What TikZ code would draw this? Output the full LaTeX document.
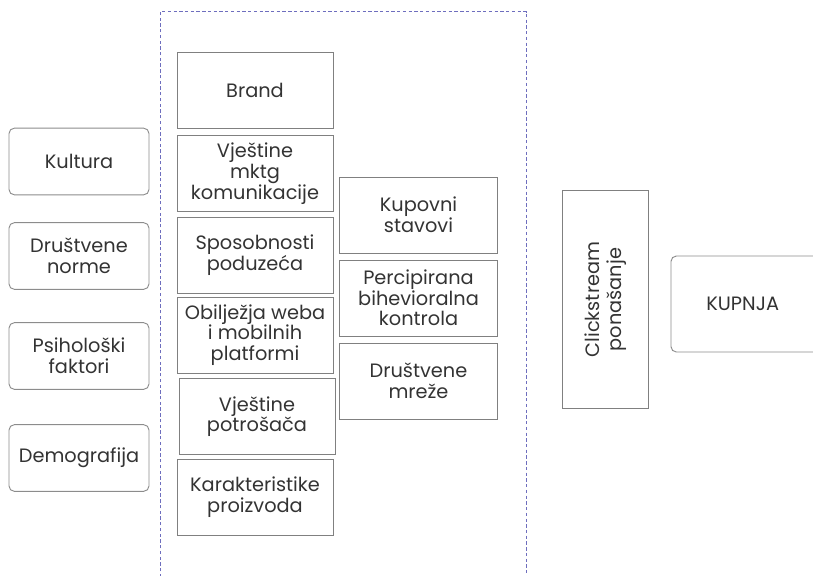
\documentclass[tikz,border=0pt]{standalone}
\usepackage{fontspec}
\setmainfont{Poppins}
\begin{document}
\begin{tikzpicture}[x=0.75pt,y=-0.75pt,
  lbl/.style={font=\fontsize{14.5}{15.5}\selectfont, text=black!80, align=center, inner sep=0pt},
  rbox/.style={lbl, draw=black!45, line width=0.7pt, rounded corners=4pt, minimum width=105pt, minimum height=50pt},
  sbox/.style={lbl, draw=black!50, line width=0.7pt, minimum width=117pt, minimum height=57pt}]
\useasboundingbox (0,0) rectangle (813,575);
\clip (0,0) rectangle (813,575);
% dashed group frame
\draw[draw={rgb,255:red,110;green,110;blue,190}, dash pattern=on 2.5pt off 1.8pt, line width=0.7pt]
  (160,600) -- (160,11.5) -- (526.5,11.5) -- (526.5,600);
% left column
\node[rbox] (kul) at (79,161.5) {Kultura};
\node[rbox] (dru) at (79,256) {Društvene\\norme};
\node[rbox] (psi) at (79,356) {Psihološki\\faktori};
\node[rbox] (dem) at (79,458) {Demografija};
% middle column
\node[sbox] (bra) at (255,90) {Brand};
\node[sbox] (vmk) at (255,173.5) {Vještine\\mktg\\komunikacije};
\node[sbox] (spo) at (255,255) {Sposobnosti\\poduzeća};
\node[sbox] (obi) at (255,335) {Obilježja weba\\i mobilnih\\platformi};
\node[sbox] (vpo) at (257,416.5) {Vještine\\potrošača};
\node[sbox] (kar) at (255,497) {Karakteristike\\proizvoda};
% right column
\node[sbox, minimum width=118pt] (kup) at (418.5,215) {Kupovni\\stavovi};
\node[sbox, minimum width=118pt] (per) at (418.5,298) {Percipirana\\bihevioralna\\kontrola};
\node[sbox, minimum width=118pt] (mre) at (418.5,381) {Društvene\\mreže};
% clickstream
\node[sbox, minimum width=64pt, minimum height=163pt] (cli) at (605.5,299.5) {};
\node[lbl, rotate=90, font=\fontsize{14.5}{17}\selectfont] (clit) at (cli.center) {Clickstream\\ponašanje};
% kupnja
\node[rbox, minimum width=135pt, minimum height=72pt, text width=110pt, align=left] (kpn) at (761,304) {\hspace*{14pt}KUPNJA};
\end{tikzpicture}
\end{document}
